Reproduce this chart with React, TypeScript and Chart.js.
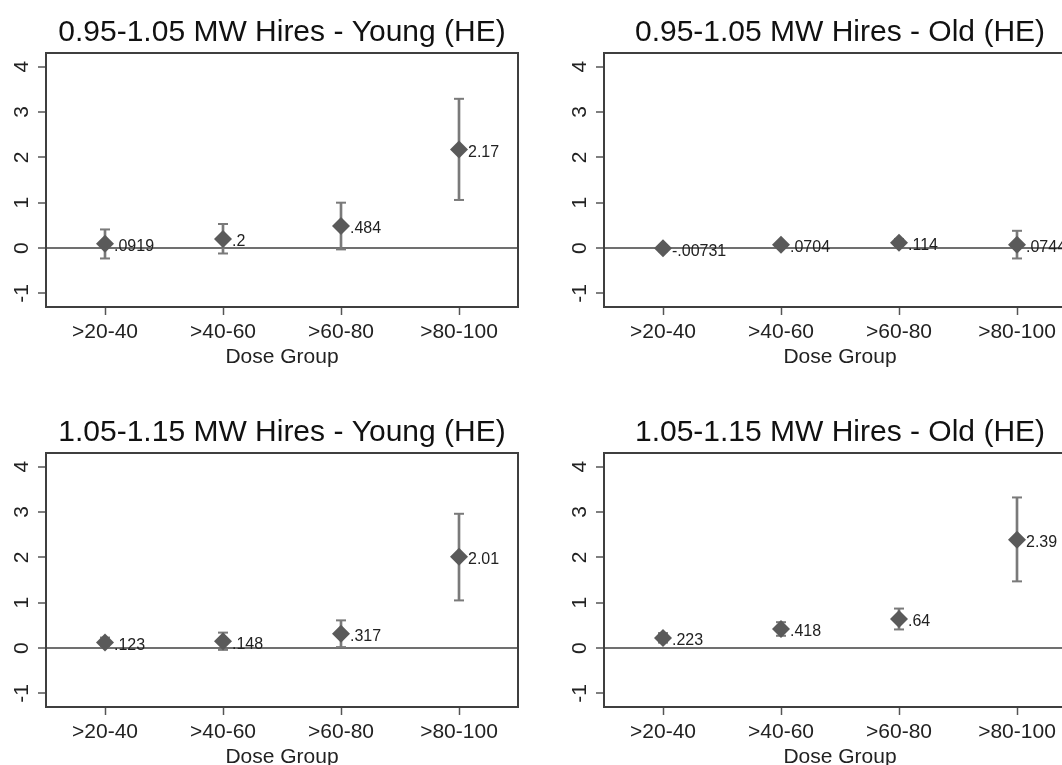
import React, { useEffect, useRef } from "react";
import { Chart, registerables } from "chart.js";

Chart.register(...registerables);

// ---------- data ----------
const CATEGORIES = [">20-40", ">40-60", ">60-80", ">80-100"];
const Y_TICKS = [-1, 0, 1, 2, 3, 4];
const Y_MIN = -1.3;
const Y_MAX = 4.3;
const X_TITLE = "Dose Group";

const TITLE_A = "0.95-1.05 MW Hires - Young (HE)";
const TITLE_B = "0.95-1.05 MW Hires - Old (HE)";
const TITLE_C = "1.05-1.15 MW Hires - Young (HE)";
const TITLE_D = "1.05-1.15 MW Hires - Old (HE)";

const EST_A = [0.0919, 0.2, 0.484, 2.17];
const LO_A = [-0.23, -0.12, -0.03, 1.06];
const HI_A = [0.41, 0.53, 1.0, 3.29];

const EST_B = [-0.00731, 0.0704, 0.114, 0.0744];
const LO_B = [-0.07, 0.01, 0.03, -0.23];
const HI_B = [0.06, 0.13, 0.2, 0.38];

const EST_C = [0.123, 0.148, 0.317, 2.01];
const LO_C = [0.02, -0.04, 0.02, 1.05];
const HI_C = [0.23, 0.34, 0.61, 2.96];

const EST_D = [0.223, 0.418, 0.64, 2.39];
const LO_D = [0.12, 0.27, 0.41, 1.47];
const HI_D = [0.33, 0.57, 0.87, 3.32];

// ---------- style / layout ----------
const FONT = '"Liberation Sans", Arial, Helvetica, sans-serif';
const PANEL_W = 558;
const PANEL_H = 400;

const PANELS = [
  { title: TITLE_A, est: EST_A, lo: LO_A, hi: HI_A, left: 0, top: 0 },
  { title: TITLE_B, est: EST_B, lo: LO_B, hi: HI_B, left: 558, top: 0 },
  { title: TITLE_C, est: EST_C, lo: LO_C, hi: HI_C, left: 0, top: 400 },
  { title: TITLE_D, est: EST_D, lo: LO_D, hi: HI_D, left: 558, top: 400 },
];

function stataG(v: number): string {
  const s = Number(v.toPrecision(3)).toString();
  return s.replace(/^(-?)0\./, "$1.");
}

const framePlugin = {
  id: "frame",
  beforeDatasetsDraw(chart: any) {
    const { ctx, chartArea } = chart;
    const { left, top, right, bottom } = chartArea;
    ctx.save();
    ctx.strokeStyle = "#3f3f3f";
    ctx.lineWidth = 2;
    ctx.strokeRect(left, top, right - left, bottom - top);
    ctx.restore();
  },
};

const panelTitlePlugin = {
  id: "panelTitle",
  afterDraw(chart: any, _args: any, opts: any) {
    const { ctx, chartArea } = chart;
    ctx.save();
    ctx.font = `30px ${FONT}`;
    ctx.fillStyle = "#111";
    ctx.textAlign = "center";
    ctx.textBaseline = "middle";
    ctx.fillText(opts.text, (chartArea.left + chartArea.right) / 2, chartArea.top - 20);
    ctx.restore();
  },
};

const valueLabelPlugin = {
  id: "valueLabels",
  afterDatasetsDraw(chart: any) {
    const { ctx } = chart;
    const meta = chart.getDatasetMeta(0);
    const values = chart.data.datasets[0].data as number[];
    ctx.save();
    ctx.font = `16px ${FONT}`;
    ctx.fillStyle = "#222";
    ctx.textAlign = "left";
    ctx.textBaseline = "middle";
    meta.data.forEach((pt: any, i: number) => {
      ctx.fillText(stataG(values[i]), pt.x + 9, pt.y + 3);
    });
    ctx.restore();
  },
};

function makeConfig(title: string, est: number[], lo: number[], hi: number[]): any {
  const ciColor = "#7a7a7a";
  return {
    type: "line",
    data: {
      labels: CATEGORIES,
      datasets: [
        {
          type: "line",
          data: est,
          showLine: false,
          pointStyle: "rectRot",
          pointRadius: 9,
          pointBackgroundColor: "#5a5a5a",
          pointBorderColor: "#5a5a5a",
          pointBorderWidth: 0,
        },
        {
          type: "line",
          data: hi,
          showLine: false,
          pointStyle: "line",
          pointRadius: 5,
          pointBorderColor: ciColor,
          pointBorderWidth: 2,
        },
        {
          type: "line",
          data: lo,
          showLine: false,
          pointStyle: "line",
          pointRadius: 5,
          pointBorderColor: ciColor,
          pointBorderWidth: 2,
        },
        {
          type: "bar",
          data: lo.map((l, i) => [l, hi[i]]),
          backgroundColor: ciColor,
          borderWidth: 0,
          barThickness: 2,
        },
      ],
    },
    options: {
      animation: false,
      responsive: false,
      events: [],
      layout: { padding: { left: 0, top: 53, right: 40, bottom: 0 } },
      plugins: {
        legend: { display: false },
        tooltip: { enabled: false },
        title: { display: false },
        panelTitle: { text: title },
      },
      scales: {
        x: {
          type: "category",
          offset: true,
          border: { display: false },
          grid: {
            display: true,
            offset: false,
            drawOnChartArea: false,
            drawTicks: true,
            tickLength: 8,
            tickColor: "#555",
            tickWidth: 1.5,
          },
          ticks: {
            padding: 5,
            color: "#222",
            font: { family: FONT, size: 21 },
            maxRotation: 0,
            minRotation: 0,
            autoSkip: false,
          },
          title: {
            display: true,
            text: X_TITLE,
            color: "#222",
            font: { family: FONT, size: 21 },
            padding: { top: 0, bottom: 30 },
          },
          afterFit: (s: any) => {
            s.height = 93;
          },
        },
        y: {
          type: "linear",
          min: Y_MIN,
          max: Y_MAX,
          afterBuildTicks: (s: any) => {
            s.ticks = Y_TICKS.map((v) => ({ value: v }));
          },
          border: { display: false },
          grid: {
            display: true,
            drawOnChartArea: true,
            drawTicks: true,
            tickLength: 8,
            lineWidth: 2,
            color: (c: any) => (c.tick && c.tick.value === 0 ? "#707070" : "rgba(0,0,0,0)"),
            tickColor: "#555",
            tickWidth: 1.5,
          },
          ticks: {
            minRotation: 90,
            maxRotation: 90,
            crossAlign: "center",
            padding: 6,
            color: "#222",
            font: { family: FONT, size: 21 },
            callback: (v: any) => String(v),
          },
          afterFit: (s: any) => {
            s.width = 46;
          },
        },
      },
    },
    plugins: [framePlugin, panelTitlePlugin, valueLabelPlugin],
  };
}

function Panel(props: { title: string; est: number[]; lo: number[]; hi: number[]; left: number; top: number }) {
  const ref = useRef<HTMLCanvasElement>(null);
  useEffect(() => {
    if (!ref.current) return;
    const chart = new Chart(ref.current, makeConfig(props.title, props.est, props.lo, props.hi));
    return () => chart.destroy();
  }, []);
  return (
    <canvas
      ref={ref}
      width={PANEL_W}
      height={PANEL_H}
      style={{ position: "absolute", left: props.left, top: props.top, width: PANEL_W, height: PANEL_H }}
    />
  );
}

export default function App() {
  return (
    <div
      style={{
        position: "absolute",
        left: 0,
        top: 0,
        width: 1062,
        height: 765,
        overflow: "hidden",
        background: "#fff",
      }}
    >
      {PANELS.map((p, i) => (
        <Panel key={i} {...p} />
      ))}
    </div>
  );
}
